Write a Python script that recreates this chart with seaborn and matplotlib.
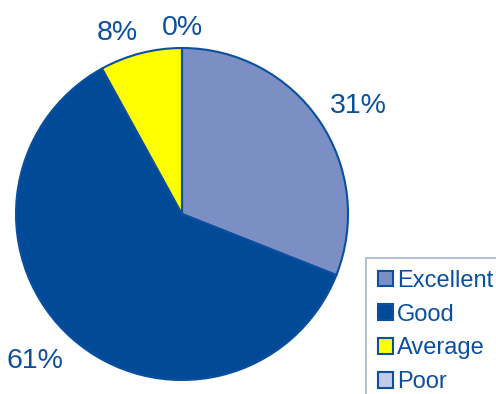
import matplotlib
matplotlib.use("Agg")
import numpy as np
import matplotlib.pyplot as plt
import seaborn as sns
from matplotlib.patches import Patch

categories = ["Excellent", "Good", "Average", "Poor"]
values = [31, 61, 8, 0]
colors = ["#7b8fc4", "#004a98", "#ffff00", "#c3cbe9"]

sns.set_theme(style="white")
plt.rcParams['font.family'] = ['Liberation Sans', 'DejaVu Sans']

text_color = "#0a4fa0"
edge_color = "#0a4fa0"

fig = plt.figure(figsize=(4.96, 3.94), dpi=100)
cx, cy, r = 182, 214, 166
W, H = 496, 394
ax = fig.add_axes([(cx - r) / W, (H - cy - r) / H, 2 * r / W, 2 * r / H])
wedges, texts, autotexts = ax.pie(
    values, colors=colors, startangle=90, counterclock=False,
    autopct="%.0f%%", pctdistance=1.2,
    wedgeprops=dict(edgecolor=edge_color, linewidth=1.5),
    textprops=dict(color=text_color, fontsize=20.5),
)
anchor_dist = 1.08
for w, t in zip(wedges, autotexts):
    ang = np.deg2rad((w.theta1 + w.theta2) / 2)
    x, y = anchor_dist * np.cos(ang), anchor_dist * np.sin(ang)
    t.set_position((x, y))
    c = np.cos(ang)
    t.set_ha("left" if c > 0.05 else ("right" if c < -0.05 else "center"))
    t.set_va("baseline" if y > 0 else "top")
ax.set_xlim(-1, 1)
ax.set_ylim(-1, 1)
ax.set_aspect("equal")
ax.axis("off")

handles = [Patch(facecolor=c, edgecolor=edge_color, linewidth=1.5) for c in colors]
leg = fig.legend(handles, categories, loc="upper left",
                 bbox_to_anchor=(366 / W, 1 - 258 / H),
                 frameon=True, fancybox=False, fontsize=17,
                 handlelength=0.65, handleheight=0.65, handletextpad=0.15,
                 labelspacing=0.5, borderpad=0.5, borderaxespad=0)
leg.get_frame().set_edgecolor("#8fa3c8")
leg.get_frame().set_linewidth(1.2)
for t in leg.get_texts():
    t.set_color(text_color)

fig.savefig("out.png", dpi=100)
